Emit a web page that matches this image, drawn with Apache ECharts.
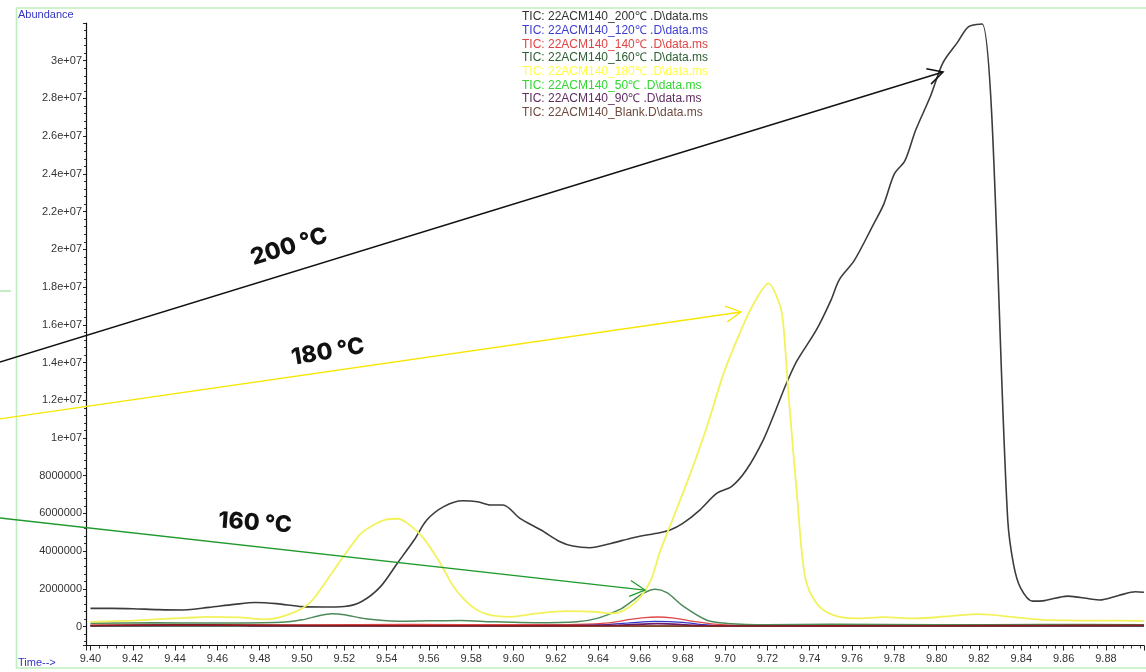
<!DOCTYPE html>
<html>
<head>
<meta charset="utf-8">
<script src="https://cdn.jsdelivr.net/npm/echarts@6/dist/echarts.min.js"></script>
<style>
  html, body { margin: 0; padding: 0; background: #fff; }
  #chart { width: 1146px; height: 672px; }
</style>
</head>
<body>
<div id="chart"></div>
<script>
// Retention time window (min) and abundance window
const timeRange = [9.3979, 9.898];
const abundanceRange = [-1e6, 3.2e7];

// TIC traces: [retention time (min), abundance]
const tic200 = [
  [9.400, 0.97e6], [9.410, 0.97e6], [9.420, 0.95e6], [9.432, 0.90e6], [9.444, 0.88e6],
  [9.456, 1.02e6], [9.468, 1.18e6], [9.478, 1.28e6], [9.488, 1.22e6], [9.500, 1.06e6],
  [9.510, 1.04e6], [9.520, 1.07e6], [9.528, 1.32e6], [9.537, 2.11e6], [9.545, 3.35e6],
  [9.553, 4.59e6], [9.559, 5.65e6], [9.567, 6.36e6], [9.576, 6.67e6], [9.583, 6.62e6],
  [9.589, 6.45e6], [9.595, 6.45e6], [9.603, 5.74e6], [9.613, 5.12e6], [9.622, 4.50e6],
  [9.628, 4.27e6], [9.636, 4.18e6], [9.646, 4.41e6], [9.657, 4.73e6], [9.669, 4.98e6],
  [9.674, 5.12e6], [9.680, 5.47e6], [9.688, 6.18e6], [9.696, 7.07e6], [9.703, 7.42e6],
  [9.710, 8.30e6], [9.718, 9.89e6], [9.724, 1.15e7], [9.729, 1.29e7], [9.734, 1.41e7],
  [9.743, 1.57e7], [9.750, 1.73e7], [9.754, 1.84e7], [9.761, 1.94e7], [9.770, 2.13e7],
  [9.775, 2.24e7], [9.780, 2.40e7], [9.785, 2.47e7], [9.790, 2.63e7], [9.797, 2.81e7],
  [9.803, 2.99e7], [9.810, 3.10e7], [9.815, 3.18e7], [9.8215, 3.195e7], [9.8336, 5.65e6],
  [9.8364, 3.26e6], [9.8397, 2.04e6], [9.8454, 1.35e6], [9.851, 1.38e6], [9.862, 1.62e6],
  [9.872, 1.48e6], [9.877, 1.41e6], [9.886, 1.65e6], [9.894, 1.85e6], [9.898, 1.82e6]
];
const tic120 = [
  [9.400, 3e4], [9.450, 4e4], [9.500, 4e4], [9.560, 8e4], [9.600, 6e4], [9.640, 9e4],
  [9.655, 2.0e5], [9.667, 2.8e5], [9.680, 2.3e5], [9.690, 1.0e5], [9.700, 3e4],
  [9.750, 2e4], [9.800, 2e4], [9.850, 3e4], [9.898, 3e4]
];
const tic140 = [
  [9.400, 8e4], [9.450, 1.0e5], [9.500, 9e4], [9.550, 1.2e5], [9.600, 1.0e5], [9.630, 1.2e5],
  [9.645, 2.0e5], [9.655, 3.8e5], [9.662, 4.8e5], [9.668, 5.1e5], [9.675, 4.6e5],
  [9.685, 2.8e5], [9.695, 1.3e5], [9.710, 6e4], [9.750, 5e4], [9.800, 8e4], [9.850, 7e4],
  [9.898, 9e4]
];
const tic160 = [
  [9.400, 1.8e5], [9.430, 2.0e5], [9.460, 1.9e5], [9.490, 2.3e5], [9.500, 3.6e5],
  [9.508, 5.8e5], [9.514, 6.8e5], [9.520, 6.3e5], [9.530, 4.2e5], [9.545, 2.9e5],
  [9.560, 3.1e5], [9.575, 3.3e5], [9.590, 2.6e5], [9.610, 2.1e5], [9.630, 2.6e5],
  [9.640, 4.5e5], [9.650, 9.0e5], [9.656, 1.35e6], [9.661, 1.75e6], [9.667, 1.98e6],
  [9.6725, 1.80e6], [9.680, 1.10e6], [9.6914, 3.4e5], [9.701, 1.7e5], [9.720, 1.0e5],
  [9.750, 1.2e5], [9.800, 1.0e5], [9.850, 1.1e5], [9.898, 1.0e5]
];
const tic180 = [
  [9.400, 2.5e5], [9.420, 3.2e5], [9.430, 3.8e5], [9.445, 4.6e5], [9.455, 5.2e5],
  [9.470, 4.9e5], [9.483, 3.8e5], [9.495, 7.0e5], [9.504, 1.3e6], [9.512, 2.5e6],
  [9.5195, 3.7e6], [9.5276, 4.9e6], [9.534, 5.4e6], [9.540, 5.68e6], [9.545, 5.72e6],
  [9.5496, 5.5e6], [9.5575, 4.68e6], [9.5654, 3.35e6], [9.5717, 2.11e6], [9.5795, 1.14e6],
  [9.5874, 6.6e5], [9.5984, 5.2e5], [9.611, 7.0e5], [9.625, 8.2e5], [9.638, 7.9e5],
  [9.647, 7.0e5], [9.657, 1.23e6], [9.6646, 2.4e6], [9.6693, 4.0e6], [9.6756, 5.8e6],
  [9.6835, 8.1e6], [9.6914, 1.06e7], [9.6992, 1.34e7], [9.7071, 1.56e7], [9.7134, 1.71e7],
  [9.7205, 1.82e7], [9.726, 1.70e7], [9.7276, 1.59e7], [9.7299, 1.24e7], [9.7339, 7.07e6],
  [9.7378, 2.64e6], [9.7433, 1.23e6], [9.7512, 6.1e5], [9.7622, 4.35e5], [9.775, 5.0e5],
  [9.790, 4.35e5], [9.806, 5.6e5], [9.820, 6.6e5], [9.8375, 4.9e5], [9.853, 3.4e5],
  [9.875, 3.2e5], [9.898, 3.1e5]
];
const tic50 = [
  [9.400, 2e4], [9.450, 3e4], [9.500, 2e4], [9.550, 3e4], [9.600, 2e4], [9.650, 3e4],
  [9.700, 1e4], [9.735, 1e4], [9.800, 2e4], [9.850, 2e4], [9.898, 2e4]
];
const tic90 = [
  [9.400, 4e4], [9.460, 6e4], [9.480, 3e4], [9.520, 5e4], [9.530, 3e4], [9.600, 4e4],
  [9.650, 8e4], [9.668, 1.6e5], [9.690, 5e4], [9.750, 3e4], [9.800, 3e4], [9.898, 4e4]
];
const ticBlank = [
  [9.400, 6e4], [9.440, 1.0e5], [9.470, 8e4], [9.550, 5e4], [9.620, 4e4], [9.700, 3e4],
  [9.750, 4e4], [9.800, 5e4], [9.850, 6e4], [9.898, 7e4]
];

// Trace names as listed in the header block
const traceNames = [
  'TIC: 22ACM140_200℃ .D\\data.ms',
  'TIC: 22ACM140_120℃ .D\\data.ms',
  'TIC: 22ACM140_140℃ .D\\data.ms',
  'TIC: 22ACM140_160℃ .D\\data.ms',
  'TIC: 22ACM140_180℃ .D\\data.ms',
  'TIC: 22ACM140_50℃ .D\\data.ms',
  'TIC: 22ACM140_90℃ .D\\data.ms',
  'TIC: 22ACM140_Blank.D\\data.ms'
];
const traceData = [tic200, tic120, tic140, tic160, tic180, tic50, tic90, ticBlank];
const lineColors = ['#3c3c3c', '#3535c8', '#e04848', '#4f8a5a', '#f2f25c', '#3fd23f', '#6a1e6a', '#8a1c1c'];
const textColors = ['#333333', '#3d3dd0', '#e04444', '#2d5e34', '#ffff4a', '#33d633', '#5e2d5e', '#6e4a40'];
const lineWidths = [1.6, 1.3, 1.3, 1.5, 1.8, 1.3, 1.6, 1.6];

// Annotation arrows (retention time, abundance) and their labels
const arrow200 = [[9.3572, 1.403e7], [9.8030, 2.94e7]];
const arrow180 = [[9.3572, 1.101e7], [9.7075, 1.668e7]];
const arrow160 = [[9.3572, 5.76e6], [9.6621, 1.94e6]];
const label200 = { text: '200 °C', at: [9.4939, 2.013e7], angle: 17.5 };
const label180 = { text: '180 °C', at: [9.5123, 1.456e7], angle: 9.5 };
const label160 = { text: '160 °C', at: [9.4778, 5.49e6], angle: -4 };

const FONT = 'Liberation Sans, Arial, Helvetica, sans-serif';

function fmtAbundance(v) {
  if (v < 0 || v > 3.05e7) return '';
  if (Math.abs(v / 2e6 - Math.round(v / 2e6)) > 1e-6) return '';
  if (v >= 1e7) {
    const parts = v.toExponential().split('e');
    const exp = parts[1];
    return parts[0] + 'e' + exp[0] + exp.slice(1).padStart(2, '0');
  }
  return String(Math.round(v));
}
function fmtTime(v) {
  if (v < 9.3995 || v > 9.885) return '';
  if (Math.abs(v * 50 - Math.round(v * 50)) > 1e-6) return '';
  return v.toFixed(2);
}

const chart = echarts.init(document.getElementById('chart'), null, { renderer: 'canvas' });

chart.setOption({
  animation: false,
  backgroundColor: '#ffffff',
  grid: { left: 86, top: 23, width: 1058, height: 622.5, containLabel: false, outerBoundsMode: 'none' },
  legend: {
    orient: 'vertical',
    left: 512,
    top: 5,
    icon: 'none',
    itemWidth: 0,
    itemHeight: 10,
    itemGap: 0,
    selectedMode: false,
    textStyle: { fontSize: 12, fontFamily: FONT, lineHeight: 13.7 },
    data: traceNames.map((n, i) => ({ name: n, textStyle: { color: textColors[i] } }))
  },
  xAxis: {
    type: 'value',
    min: timeRange[0],
    max: timeRange[1],
    splitNumber: 25,
    axisLine: { show: true, onZero: false, lineStyle: { color: '#111', width: 1.2 } },
    axisTick: { show: true, length: 5, lineStyle: { color: '#222' } },
    minorTick: { show: true, splitNumber: 5, length: 3, lineStyle: { color: '#333' } },
    splitLine: { show: false },
    axisLabel: { formatter: fmtTime, color: '#333', fontSize: 11, fontFamily: FONT, margin: 8, hideOverlap: false }
  },
  yAxis: {
    type: 'value',
    min: abundanceRange[0],
    max: abundanceRange[1],
    splitNumber: 16,
    axisLine: { show: true, onZero: false, lineStyle: { color: '#111', width: 1.2 } },
    axisTick: { show: true, length: 3, lineStyle: { color: '#222' } },
    minorTick: { show: true, splitNumber: 5, length: 2, lineStyle: { color: '#333' } },
    splitLine: { show: false },
    axisLabel: { formatter: fmtAbundance, color: '#333', fontSize: 11, fontFamily: FONT, margin: 4, hideOverlap: false }
  },
  series: traceData.map((d, i) => ({
    type: 'line',
    name: traceNames[i],
    data: d,
    symbol: 'none',
    showSymbol: false,
    smooth: 0.3,
    lineStyle: { color: lineColors[i], width: lineWidths[i] },
    itemStyle: { color: lineColors[i] },
    emphasis: { disabled: true }
  }))
});

function toPx(p) { return chart.convertToPixel({ gridIndex: 0 }, p); }

function arrow(seg, color, width) {
  const a = toPx(seg[0]);
  const b = toPx(seg[1]);
  const ang = Math.atan2(b[1] - a[1], b[0] - a[0]);
  const L = 17, spread = 0.49;
  const h1 = [b[0] - L * Math.cos(ang - spread), b[1] - L * Math.sin(ang - spread)];
  const h2 = [b[0] - L * Math.cos(ang + spread), b[1] - L * Math.sin(ang + spread)];
  return [
    { type: 'line', silent: true, z: 100, shape: { x1: a[0], y1: a[1], x2: b[0], y2: b[1] },
      style: { stroke: color, lineWidth: width } },
    { type: 'polyline', silent: true, z: 100, shape: { points: [h1, b, h2] },
      style: { stroke: color, lineWidth: width, fill: null } }
  ];
}

function label(l) {
  const p = toPx(l.at);
  return {
    type: 'text', silent: true, z: 100, x: p[0], y: p[1],
    rotation: l.angle * Math.PI / 180,
    style: { text: l.text, fill: '#111', font: '800 23px Inter, "Open Sans", sans-serif',
             align: 'center', verticalAlign: 'middle' }
  };
}

chart.setOption({
  graphic: [
    { type: 'rect', silent: true, z: -10, shape: { x: 16.5, y: 8, width: 1140, height: 660 },
      style: { fill: null, stroke: '#bfeebf', lineWidth: 1.6 } },
    { type: 'line', silent: true, shape: { x1: 0, y1: 291, x2: 11, y2: 291 },
      style: { stroke: '#9fe29f', lineWidth: 1.2 } },
    { type: 'text', silent: true, x: 18, y: 15,
      style: { text: 'Abundance', fill: '#3434c4', font: '11px ' + FONT, verticalAlign: 'middle' } },
    { type: 'text', silent: true, x: 18, y: 663,
      style: { text: 'Time-->', fill: '#3434c4', font: '11px ' + FONT, verticalAlign: 'middle' } },
    ...arrow(arrow200, '#111111', 1.5),
    ...arrow(arrow180, '#f7e600', 1.3),
    ...arrow(arrow160, '#1f9a2c', 1.3),
    label(label200),
    label(label180),
    label(label160)
  ]
});
</script>
</body>
</html>
